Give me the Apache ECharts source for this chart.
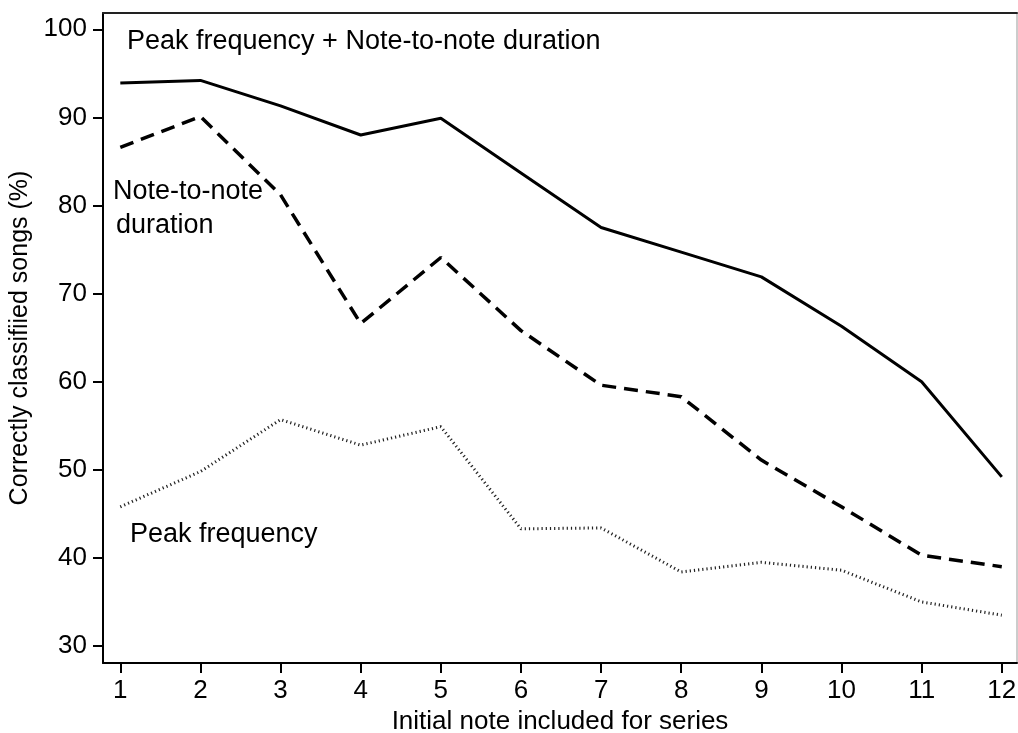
<!DOCTYPE html>
<html>
<head>
<meta charset="utf-8">
<script src="https://cdn.jsdelivr.net/npm/echarts@6/dist/echarts.min.js"></script>
<style>
  html, body { margin: 0; padding: 0; background: #fff; }
  #container { width: 1018px; height: 733px; }
</style>
</head>
<body>
<div id="container"></div>
<script>
var dom     = document.getElementById("container");
var myChart = echarts.init(dom);

// initial note (x) and tick labels
var notes  = [1, 2, 3, 4, 5, 6, 7, 8, 9, 10, 11, 12];
var yTicks = [30, 40, 50, 60, 70, 80, 90, 100];

// correctly classified songs (%)
var peakPlusDuration = [93.9, 94.2, 91.3, 88.0, 89.9, 83.7, 77.5, 74.7, 71.9, 66.3, 60.0, 49.2];
var durationOnly     = [86.6, 90.1, 81.2, 66.6, 74.1, 65.8, 59.6, 58.3, 51.1, 45.8, 40.3, 39.0];
var peakOnly         = [45.8, 49.8, 55.7, 52.8, 54.9, 43.3, 43.4, 38.4, 39.5, 38.6, 35.0, 33.5];

function pairs(vals) {
    var out = [];
    for (var i = 0; i < notes.length; i++) {
        out.push([notes[i], vals[i]]);
    }
    return out;
}

var font = 'Liberation Sans, Arial, Helvetica, sans-serif';

var option = {
    backgroundColor: '#fff',
    animation: false,
    grid: {
        left: 103,
        top: 13,
        right: 1,
        bottom: 70,
        containLabel: false,
        outerBoundsMode: 'none',
        show: true,
        borderColor: '#999',
        borderWidth: 1
    },
    xAxis: [
        {
            type: 'value',
            min: 0.784,
            max: 12.19,
            name: 'Initial note included for series',
            nameLocation: 'middle',
            nameGap: 36,
            nameTextStyle: {fontFamily: font, fontSize: 26, color: '#000'},
            axisLine: {show: true, onZero: false, lineStyle: {color: '#000', width: 2}},
            axisTick: {show: true, length: 10, customValues: notes, lineStyle: {color: '#000', width: 2}},
            axisLabel: {customValues: notes, margin: 15, fontFamily: font, fontSize: 26, color: '#000'},
            splitLine: {show: false}
        },
        {
            type: 'value',
            position: 'top',
            min: 0.784,
            max: 12.19,
            axisLine: {show: true, onZero: false, lineStyle: {color: '#222', width: 2}},
            axisTick: {show: false},
            axisLabel: {show: false},
            splitLine: {show: false}
        }
    ],
    yAxis: {
        type: 'value',
        min: 28.07,
        max: 101.85,
        name: 'Correctly classifiied songs (%)',
        nameLocation: 'middle',
        nameGap: 57,
        nameTextStyle: {fontFamily: font, fontSize: 25, color: '#000'},
        axisLine: {show: true, onZero: false, lineStyle: {color: '#000', width: 2}},
        axisTick: {show: true, length: 10, customValues: yTicks, lineStyle: {color: '#000', width: 2}},
        axisLabel: {customValues: yTicks, margin: 16, fontFamily: font, fontSize: 26, color: '#000'},
        splitLine: {show: false}
    },
    graphic: [
        {type: 'text', left: 127, top: 28, style: {text: 'Peak frequency + Note-to-note duration', font: '27px ' + font, fill: '#000'}},
        {type: 'text', left: 113, top: 178, style: {text: 'Note-to-note', font: '27px ' + font, fill: '#000'}},
        {type: 'text', left: 116, top: 212, style: {text: 'duration', font: '27px ' + font, fill: '#000'}},
        {type: 'text', left: 130, top: 521, style: {text: 'Peak frequency', font: '27px ' + font, fill: '#000'}}
    ],
    series: [
        {
            name: 'Peak frequency + Note-to-note duration',
            type: 'line',
            data: pairs(peakPlusDuration),
            showSymbol: false,
            lineStyle: {color: '#000', width: 3, type: 'solid'}
        },
        {
            name: 'Note-to-note duration',
            type: 'line',
            data: pairs(durationOnly),
            showSymbol: false,
            lineStyle: {color: '#000', width: 3.5, type: [14, 8]}
        },
        {
            name: 'Peak frequency',
            type: 'line',
            data: pairs(peakOnly),
            showSymbol: false,
            lineStyle: {color: '#222', width: 3, type: [1.2, 3]}
        }
    ]
};

myChart.setOption(option);
</script>
</body>
</html>
